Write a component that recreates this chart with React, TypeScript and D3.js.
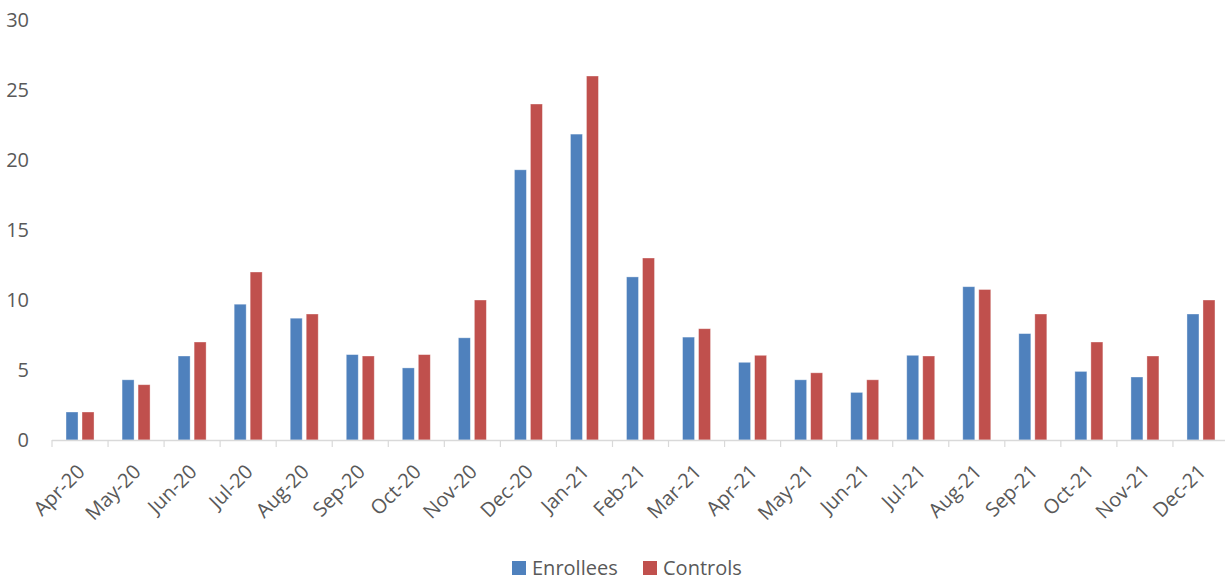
import React from "react";
import * as d3 from "d3";

const categories = ["Apr-20","May-20","Jun-20","Jul-20","Aug-20","Sep-20","Oct-20","Nov-20","Dec-20","Jan-21","Feb-21","Mar-21","Apr-21","May-21","Jun-21","Jul-21","Aug-21","Sep-21","Oct-21","Nov-21","Dec-21"];
const enrollees = [2, 4.3, 6, 9.7, 8.7, 6.1, 5.15, 7.3, 19.3, 21.85, 11.65, 7.35, 5.55, 4.3, 3.4, 6.05, 10.95, 7.6, 4.9, 4.5, 9];
const controls = [2, 3.95, 7, 12, 9, 6, 6.1, 10, 24, 26, 13, 7.95, 6.05, 4.8, 4.3, 6, 10.75, 9, 7, 6, 10];
const seriesNames = ["Enrollees", "Controls"];
const seriesColors = ["#4F81BD", "#C0504D"];
const yTicks = [0, 5, 10, 15, 20, 25, 30];

export default function App() {
  const W = 1225, H = 580;
  const x = d3.scaleBand<string>().domain(categories).range([52, 1229]).paddingInner(0).paddingOuter(0);
  const inner = d3.scaleBand<string>().domain(seriesNames).range([0, 28]).paddingInner(0.25);
  const y = d3.scaleLinear().domain([0, 30]).range([440, 20]);
  const font = "'Open Sans', sans-serif";
  const textColor = "#595959";
  const values = [enrollees, controls];
  const ticksX = categories.map((c) => x(c)!).concat([x.range()[1]]);
  return (
    <svg width={W} height={H} style={{ position: "absolute", left: 0, top: 0 }} fontFamily={font}>
      <rect width={W} height={H} fill="#fff" />
      {yTicks.map((t) => (
        <text key={t} x={29} y={y(t)} dy="0.35em" textAnchor="end" fontSize={20} fill={textColor}>{t}</text>
      ))}
      {categories.map((c, i) => {
        const cx = x(c)! + x.bandwidth() / 2;
        return (
          <g key={c}>
            {seriesNames.map((s, k) => {
              const v = values[k][i];
              return (
                <rect key={s} x={cx - 14 + inner(s)!} y={y(v)} width={inner.bandwidth()} height={y(0) - y(v)}
                  fill={seriesColors[k]} stroke="#ffffff" strokeOpacity={0.45} strokeWidth={0.8} />
              );
            })}
          </g>
        );
      })}
      <line x1={52} x2={1229} y1={440.5} y2={440.5} stroke="#D9D9D9" strokeWidth={1.5} />
      {ticksX.map((tx, i) => (
        <line key={i} x1={tx} x2={tx} y1={440} y2={447} stroke="#D9D9D9" strokeWidth={1.2} />
      ))}
      {categories.map((c) => {
        const cx = x(c)! + x.bandwidth() / 2;
        return (
          <text key={c} transform={`translate(${cx + 6},${473}) rotate(-45)`} textAnchor="end" fontSize={20} fill={textColor}>{c}</text>
        );
      })}
      <g>
        <rect x={512} y={561} width={14} height={14} fill={seriesColors[0]} />
        <text x={532} y={568} dy="0.35em" fontSize={20} fill={textColor}>{seriesNames[0]}</text>
        <rect x={643} y={561} width={14} height={14} fill={seriesColors[1]} />
        <text x={663} y={568} dy="0.35em" fontSize={20} fill={textColor}>{seriesNames[1]}</text>
      </g>
    </svg>
  );
}
